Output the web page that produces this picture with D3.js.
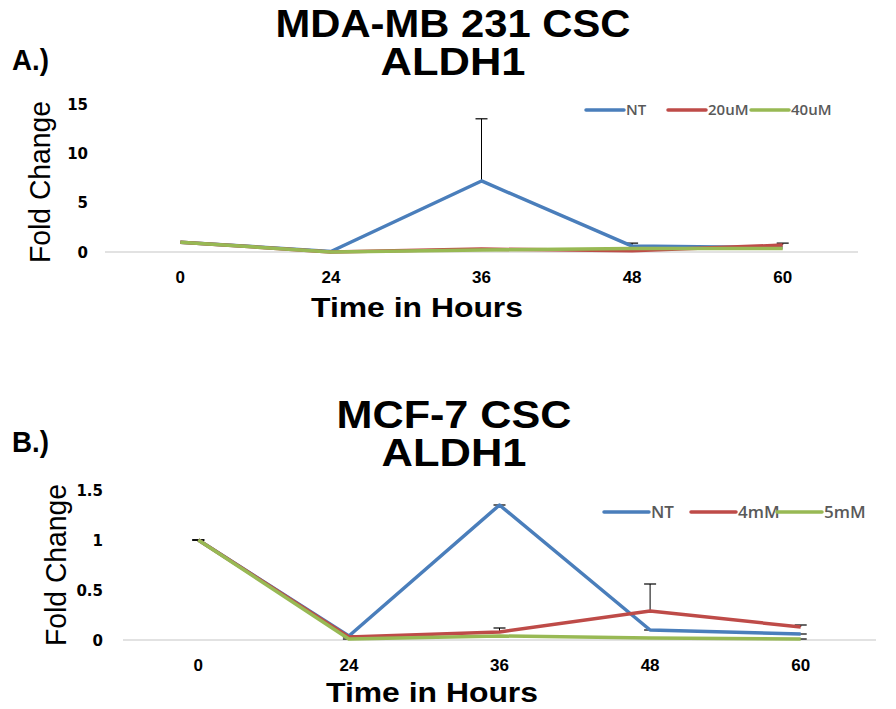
<!DOCTYPE html>
<html><head><meta charset="utf-8">
<script src="https://d3js.org/d3.v7.min.js"></script>
<style>body{margin:0;background:#fff}svg{display:block}</style>
</head><body>
<script>
const categories = ["0","24","36","48","60"];
// Chart A: MDA-MB 231 CSC
const seriesNamesA = ["NT","20uM","40uM"];
const ntA   = [1.0, 0.05, 7.2, 0.6, 0.45];
const uM20A = [1.0, 0.0, 0.3, 0.12, 0.7];
const uM40A = [1.0, 0.0, 0.2, 0.35, 0.35];
const ntErrA   = [0, 0, 6.3, 0.3, 0];
const uM20ErrA = [0, 0, 0, 0, 0.2];
const uM40ErrA = [0, 0, 0, 0, 0];
const yTicksA = [0,5,10,15];
// Chart B: MCF-7 CSC
const seriesNamesB = ["NT","4mM","5mM"];
const ntB  = [1.0, 0.04, 1.35, 0.1, 0.06];
const mM4B = [1.0, 0.03, 0.08, 0.29, 0.13];
const mM5B = [1.0, 0.01, 0.04, 0.02, 0.01];
const ntErrB  = [0, 0, 0.0, 0, 0];
const mM4ErrB = [0, 0, 0.04, 0.27, 0.02];
const mM5ErrB = [0, 0, 0, 0, 0];
const yTicksB = [0,0.5,1,1.5];
const yTickLabelsB = ["0","0.5","1","1.5"];
const colors = ["#4a7ebb","#be4b48","#98b954"];

const svg = d3.select("body").append("svg").attr("width",896).attr("height",709);

function drawChart(o){
  const g = svg.append("g");
  // titles
  g.append("text").attr("x",o.titleX).attr("y",o.titleY).attr("text-anchor","middle")
    .attr("font-family","Liberation Sans, Arial").attr("font-weight","bold").attr("font-size",38)
    .attr("textLength",o.title1Len).attr("lengthAdjust","spacingAndGlyphs").text(o.title1);
  g.append("text").attr("x",o.titleX).attr("y",o.titleY+38).attr("text-anchor","middle")
    .attr("font-family","Liberation Sans, Arial").attr("font-weight","bold").attr("font-size",38)
    .attr("textLength",o.title2Len).attr("lengthAdjust","spacingAndGlyphs").text("ALDH1");
  g.append("text").attr("x",12).attr("y",o.labelY).attr("font-family","Liberation Sans, Arial")
    .attr("font-weight","bold").attr("font-size",30).attr("textLength",37).attr("lengthAdjust","spacingAndGlyphs").text(o.panel);

  const x = d3.scaleBand().domain(categories).range([o.x0,o.x1]);
  const y = d3.scaleLinear().domain([0,o.yMax]).range([o.y0,o.yTop]);
  // axis line
  g.append("line").attr("x1",o.x0).attr("x2",o.x1).attr("y1",o.y0).attr("y2",o.y0)
    .attr("stroke","#d9d9d9").attr("stroke-width",1.3);
  // y tick labels
  const ya = d3.axisLeft(y).tickValues(o.yTicks).tickFormat((d,i)=>o.yLabels[i]).tickSize(0).tickPadding(0);
  const yg = g.append("g").attr("transform",`translate(${o.yLabelX},0)`).call(ya);
  yg.select(".domain").remove();
  yg.selectAll("text").attr("font-family","DejaVu Sans, Verdana").attr("font-weight","bold")
    .attr("font-size",15).attr("fill","#000").attr("dy","0.35em");
  // x tick labels
  const xa = d3.axisBottom(x).tickSize(0).tickPadding(0);
  const xg = g.append("g").attr("transform",`translate(0,${o.xLabelY})`).call(xa);
  xg.select(".domain").remove();
  xg.selectAll("text").attr("font-family","Liberation Sans, Arial").attr("font-weight","bold")
    .attr("font-size",17).attr("fill","#000").attr("dy","0");
  // axis titles
  g.append("text").attr("transform",`translate(${o.yTitleX},${o.yTitleY}) rotate(-90)`)
    .attr("text-anchor","middle").attr("font-family","Liberation Sans, Arial").attr("font-size",29)
    .attr("textLength",162).attr("lengthAdjust","spacingAndGlyphs").text("Fold Change");
  g.append("text").attr("x",o.xTitleX).attr("y",o.xTitleY).attr("text-anchor","middle")
    .attr("font-family","Liberation Sans, Arial").attr("font-weight","bold").attr("font-size",28)
    .attr("textLength",212).attr("lengthAdjust","spacingAndGlyphs").text("Time in Hours");

  const cx = c => x(c)+x.bandwidth()/2;
  // error bars (drawn under lines)
  o.series.forEach((s,si)=>{
    s.forEach((v,i)=>{
      const e = o.errs[si][i];
      const xx = cx(categories[i]);
      if(e>0) g.append("line").attr("x1",xx).attr("x2",xx).attr("y1",y(v)).attr("y2",y(v+e)).attr("stroke","#000").attr("stroke-width",1);
      if(e>0 || o.capZero) g.append("line").attr("x1",xx-6).attr("x2",xx+6).attr("y1",y(v+e)).attr("y2",y(v+e)).attr("stroke","#000").attr("stroke-width",1.2);
    });
  });
  const line = d3.line().x((d,i)=>cx(categories[i])).y(d=>y(d));
  o.series.forEach((s,si)=>{
    g.append("path").datum(s).attr("d",line).attr("fill","none").attr("stroke",colors[si])
      .attr("stroke-width",3.5).attr("stroke-linejoin","round");
  });
  // legend
  o.names.forEach((n,i)=>{
    const lx = o.legendX[i];
    g.append("line").attr("x1",lx).attr("x2",lx+o.legendLineLen).attr("y1",o.legendY).attr("y2",o.legendY)
      .attr("stroke",colors[i]).attr("stroke-width",3.5).attr("stroke-linecap","round");
    g.append("text").attr("x",lx+o.legendLineLen+2).attr("y",o.legendY).attr("dy","0.35em")
      .attr("font-family","Open Sans, Liberation Sans, Arial").attr("font-weight","600").attr("font-size",o.legendFont).attr("fill","#595959").text(n);
  });
}

drawChart({title1:"MDA-MB 231 CSC",title1Len:355,title2Len:145,titleX:453,titleY:37,panel:"A.)",labelY:70,
  x0:105,x1:858,y0:252,yTop:104,yMax:15,yTicks:yTicksA,yLabels:yTicksA.map(String),yLabelX:88,
  xLabelY:283,yTitleX:50,yTitleY:182,xTitleX:417,xTitleY:317,
  series:[ntA,uM20A,uM40A],errs:[ntErrA,uM20ErrA,uM40ErrA],names:seriesNamesA,capZero:false,
  legendX:[586,668,751],legendLineLen:38,legendY:110,legendFont:15});

drawChart({title1:"MCF-7 CSC",title1Len:235,title2Len:145,titleX:454,titleY:428,panel:"B.)",labelY:452,
  x0:123,x1:876,y0:640,yTop:490,yMax:1.5,yTicks:yTicksB,yLabels:yTickLabelsB,yLabelX:103,
  xLabelY:671,yTitleX:66,yTitleY:565,xTitleX:432,xTitleY:702,
  series:[ntB,mM4B,mM5B],errs:[ntErrB,mM4ErrB,mM5ErrB],names:seriesNamesB,capZero:true,
  legendX:[604,691,777],legendLineLen:45,legendY:512,legendFont:17});
</script>
</body></html>
